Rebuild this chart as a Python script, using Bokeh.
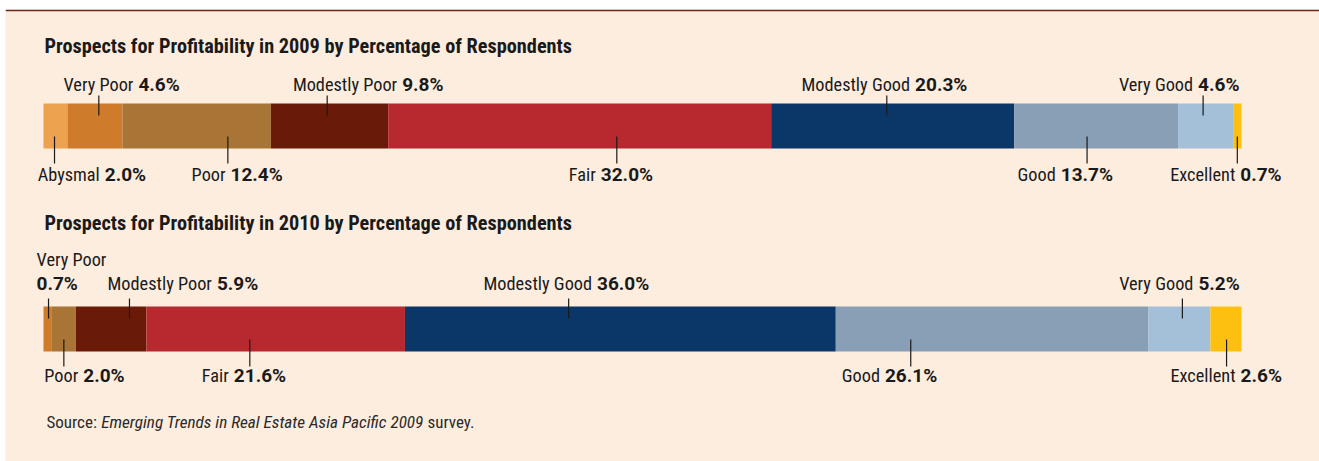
import numpy as np
from bokeh.plotting import figure
from bokeh.models import Range1d, Span
from bokeh.core.properties import value
from bokeh.embed import file_html
from bokeh.resources import INLINE

# ---------------- data ----------------
categories = ["Abysmal", "Very Poor", "Poor", "Modestly Poor", "Fair",
              "Modestly Good", "Good", "Very Good", "Excellent"]
pct_2009 = [2.0, 4.6, 12.4, 9.8, 32.0, 20.3, 13.7, 4.6, 0.7]
pct_2010 = [0.0, 0.7, 2.0, 5.9, 21.6, 36.0, 26.1, 5.2, 2.6]
titles = ["Prospects for Profitability in 2009 by Percentage of Respondents",
          "Prospects for Profitability in 2010 by Percentage of Respondents"]
source_parts = ["Source:", "Emerging Trends in Real Estate Asia Pacific 2009", "survey."]

# ---------------- styles / layout ----------------
colors = ["#eca24e", "#cf7b2c", "#a87536", "#6a1b08", "#b8282f",
          "#0b3768", "#889fb5", "#a4c0d8", "#fdc010"]
BG = "#fdeddf"
INK = "#1a1a1a"
FONT = "Roboto Condensed"
FONT_VAL = "Roboto"
NAME_SIZE, VAL_SIZE, TITLE_SIZE = 18.3, 19.0, 20.3
CAP = 0.711  # cap height / font size


def base_y(baseline, size):
    # text is anchored at the middle of the capitals
    return baseline - CAP * size / 2


W, H = 1319, 461
LEFT_BORDER, TOP_BORDER = 5, 9
TOTAL = 100.1
BAR_PX0, BAR_PX1 = 43.0, 1241.0          # page pixels of the 0 and 100.1 ends
K = (BAR_PX1 - BAR_PX0) / TOTAL
X0 = (LEFT_BORDER - BAR_PX0) / K
X1 = (W - BAR_PX0) / K


def px2x(px):
    return (px - BAR_PX0) / K


# label layout: category -> (side, leader fraction within segment, name-end offset px)
layout_2009 = {
    "Abysmal": ("bottom", 0.46, 45.3),
    "Very Poor": ("top", 0.57, 34.6),
    "Poor": ("bottom", 0.71, -2.3),
    "Modestly Poor": ("top", 0.48, 70.0),
    "Fair": ("bottom", 0.597, -21.0),
    "Modestly Good": ("top", 0.476, 23.3),
    "Good": ("bottom", 0.445, -31.3),
    "Very Good": ("top", 0.455, -10.0),
    "Excellent": ("bottom", 0.5, -2.0),
}
layout_2010 = {
    "Very Poor": ("stack", 0.6, -12.0),
    "Poor": ("bottom", 0.5, 14.4),
    "Modestly Poor": ("top", 0.76, 82.4),
    "Fair": ("bottom", 0.40, -21.0),
    "Modestly Good": ("top", 0.38, 23.4),
    "Good": ("bottom", 0.24, -30.8),
    "Very Good": ("top", 0.55, 11.0),
    "Excellent": ("bottom", 0.52, 9.0),
}

rows = [
    dict(vals=pct_2009, title=titles[0], lay=layout_2009, title_y=52.6,
         bar_top=103.0, top_base=90.7, bot_base=180.3),
    dict(vals=pct_2010, title=titles[1], lay=layout_2010, title_y=229.3,
         bar_top=306.0, top_base=289.3, bot_base=381.7),
]
BAR_H = 45.0
GAP = 5.0

p = figure(width=W, height=H, x_range=Range1d(X0, X1), y_range=Range1d(H, TOP_BORDER),
           output_backend="svg", toolbar_location=None,
           min_border_left=LEFT_BORDER, min_border_top=TOP_BORDER,
           min_border_right=0, min_border_bottom=0,
           x_axis_location=None, y_axis_location=None,
           background_fill_color=BG, border_fill_color="white")
p.grid.visible = False
p.outline_line_color = None

p.add_layout(Span(location=9.9, dimension="width", line_color="#6b2818", line_width=1.8))

name_kw = dict(text_font=value(FONT), text_font_size=f"{NAME_SIZE}px", text_color=INK,
               text_baseline="alphabetic")
val_kw = dict(text_font=value(FONT_VAL), text_font_size=f"{VAL_SIZE}px", text_font_style="bold",
              text_color=INK, text_baseline="alphabetic", text_align="left")

for row in rows:
    vals = np.array(row["vals"], dtype=float)
    ends = np.cumsum(vals)
    starts = ends - vals
    keep = vals > 0
    yc = row["bar_top"] + BAR_H / 2
    p.hbar(y=[yc] * int(keep.sum()), left=list(starts[keep]), right=list(ends[keep]),
           height=BAR_H, fill_color=[c for c, k in zip(colors, keep) if k], line_color=None)

    # title
    p.text(x=[px2x(44)], y=[base_y(row["title_y"], TITLE_SIZE)], text=[row["title"]],
           text_font=value(FONT), text_font_size=f"{TITLE_SIZE}px", text_font_style="bold",
           text_color=INK, text_baseline="alphabetic", text_align="left")

    bt = row["bar_top"]
    bb = bt + BAR_H
    for side_key in ("top", "bottom", "stack"):
        lx, names, vtxt, dxs = [], [], [], []
        for i, cat in enumerate(categories):
            if cat not in row["lay"]:
                continue
            side, frac, dx = row["lay"][cat]
            if side != side_key:
                continue
            lx.append(starts[i] + frac * vals[i])
            names.append(cat)
            vtxt.append(f"{vals[i]:.1f}%")
            dxs.append(dx)
        if not lx:
            continue
        if side_key in ("top", "stack"):
            y0, y1 = bt - 8, bt + 12
        else:
            y0, y1 = bb - 12, bb + 15
        p.segment(x0=lx, y0=[y0] * len(lx), x1=lx, y1=[y1] * len(lx),
                  line_color=INK, line_width=1.2)
        n = len(lx)
        if side_key == "stack":
            p.text(x=lx, y=[base_y(row["top_base"] - 24, NAME_SIZE)] * n, text=names,
                   x_offset=dxs, text_align="left", **name_kw)
            p.text(x=lx, y=[base_y(row["top_base"], VAL_SIZE)] * n, text=vtxt,
                   x_offset=dxs, **val_kw)
            continue
        base = row["top_base"] if side_key == "top" else row["bot_base"]
        p.text(x=lx, y=[base_y(base, NAME_SIZE)] * n, text=names, x_offset=dxs,
               text_align="right", **name_kw)
        p.text(x=lx, y=[base_y(base, VAL_SIZE)] * n, text=vtxt,
               x_offset=[d + GAP for d in dxs], **val_kw)

# source line
src_px = [46, 100.7, 427]
src_styles = ["normal", "italic", "normal"]
src_sizes = [17.0, 17.2, 17.0]
for part, sx, st, sz in zip(source_parts, src_px, src_styles, src_sizes):
    p.text(x=[px2x(sx)], y=[base_y(428, sz)], text=[part], text_font=value(FONT),
           text_font_size=f"{sz}px", text_font_style=st, text_color="#2a2a2a",
           text_baseline="alphabetic", text_align="left")

open("out.html", "w").write(file_html(p, INLINE))
